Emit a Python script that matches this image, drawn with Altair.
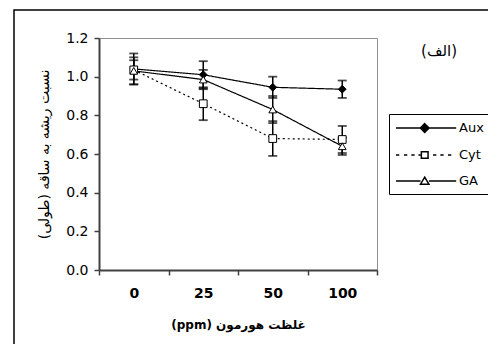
import altair as alt
import pandas as pd

doses = ["0", "25", "50", "100"]
series_names = ["Aux", "Cyt", "GA"]
aux_mean = [1.04, 1.01, 0.945, 0.935]
aux_err = [0.08, 0.07, 0.055, 0.045]
cyt_mean = [1.035, 0.86, 0.68, 0.675]
cyt_err = [0.05, 0.085, 0.09, 0.07]
ga_mean = [1.03, 0.985, 0.83, 0.64]
ga_err = [0.07, 0.05, 0.07, 0.045]
y_ticks = [0.0, 0.2, 0.4, 0.6, 0.8, 1.0, 1.2]

x_title = "(ppm) غلظت هورمون"
y_title = "نسبت ریشه به ساقه (طولی)"
panel_label = "(الف)"

rows = []
for name, means, errs in [("Aux", aux_mean, aux_err), ("Cyt", cyt_mean, cyt_err), ("GA", ga_mean, ga_err)]:
    for d, m, e in zip(doses, means, errs):
        rows.append({"dose": d, "series": name, "value": m, "lo": m - e, "hi": m + e})
df = pd.DataFrame(rows)

FONT = "DejaVu Sans"
base = alt.Chart(df)

x_enc = alt.X("dose:O", sort=doses,
              scale=alt.Scale(type="band", paddingInner=0, paddingOuter=0),
              axis=alt.Axis(title=x_title, labelAngle=0, tickBand="extent",
                            labelFontWeight="bold", labelFontSize=14, labelPadding=11,
                            titleFontWeight="bold", titleFontSize=12, titlePadding=19))
y_scale = alt.Scale(domain=[0, 1.2], nice=False, zero=True)
y_axis = alt.Axis(title=y_title, values=y_ticks, format=".1f", labelFontSize=14,
                  labelOverlap=False, labelPadding=6, titleFontSize=14,
                  titleFontWeight="normal", titlePadding=14)


def y_enc(field):
    return alt.Y(field, scale=y_scale, axis=y_axis)


frame = alt.Chart(alt.Data(values=[{}])).mark_rect(fill=None, stroke="black", strokeWidth=1.5).encode(
    x=alt.value(-85), x2=alt.value(520), y=alt.value(-28), y2=alt.value(420))

rules = base.mark_rule(color="black", strokeWidth=1.5).encode(
    x=x_enc, y=y_enc("lo:Q"), y2="hi:Q")

caps = base.transform_fold(["lo", "hi"], as_=["end", "v"]).mark_tick(
    color="black", size=9, thickness=1.8, orient="horizontal").encode(
    x=x_enc, y=y_enc("v:Q"))

lines = base.mark_line(color="black", strokeWidth=1.2).encode(
    x=x_enc, y=y_enc("value:Q"),
    detail="series:N",
    strokeDash=alt.StrokeDash("series:N", scale=alt.Scale(domain=series_names, range=[[1, 0], [2, 3], [1, 0]]), legend=None))

points = base.mark_point(filled=True, stroke="black", strokeWidth=1, size=60, opacity=1).encode(
    x=x_enc, y=y_enc("value:Q"),
    shape=alt.Shape("series:N", scale=alt.Scale(domain=series_names, range=["diamond", "square", "triangle-up"]), legend=None),
    fill=alt.Fill("series:N", scale=alt.Scale(domain=series_names, range=["black", "white", "white"]), legend=None))

# legend symbols: unit = 7px, box-left at -1; line runs -1..7.6, marker centred at 3.1
aux_sym = "M-1,0H2.48M3.72,0H7.6M3.1,-0.62L3.72,0L3.1,0.62L2.48,0Z"
cyt_sym = ("M-1,0h0.47M0.14,0h0.47M1.19,0h0.47M2.2,0h0.3"
           "M4.29,0h0.47M5.33,0h0.47M6.43,0h0.47"
           "M2.62,-0.48H3.58V0.48H2.62Z")
ga_sym = "M-1,0H2.5M3.7,0H7.6M3.1,-0.55L3.7,0.45L2.5,0.45Z"

legend_layer = base.transform_filter("false").mark_point(filled=True, stroke="black", strokeWidth=1.2, opacity=1).encode(
    x=x_enc, y=y_enc("value:Q"),
    shape=alt.Shape("series:N", scale=alt.Scale(domain=series_names, range=[aux_sym, cyt_sym, ga_sym]),
                    legend=alt.Legend(title=None, orient="none", legendX=290, legendY=76,
                                      strokeColor="black", fillColor="white", padding=6,
                                      symbolSize=196, labelFontSize=13, labelFont=FONT,
                                      labelOffset=48, rowPadding=11)),
    fill=alt.Fill("series:N", scale=alt.Scale(domain=series_names, range=["black", "white", "white"]), legend=None))

label = alt.Chart(alt.Data(values=[{}])).mark_text(fontSize=15, font=FONT, color="black").encode(
    x=alt.value(340), y=alt.value(13), text=alt.value(panel_label))

chart = alt.layer(frame, rules, caps, lines, points, legend_layer, label).resolve_scale(
    shape="independent", fill="independent", strokeDash="independent"
).properties(
    width=278, height=232, autosize="none",
    padding={"left": 91, "top": 30, "right": 111, "bottom": 74},
    background="white"
).configure_view(stroke="#909090", strokeWidth=1).configure_axis(
    grid=False, domainColor="#404040", domainWidth=2, tickColor="#404040", tickWidth=1.5,
    tickSize=5, labelColor="black", titleColor="black", labelFont=FONT, titleFont=FONT
)

chart.save("out.html", embed_options={"renderer": "svg", "actions": False})
